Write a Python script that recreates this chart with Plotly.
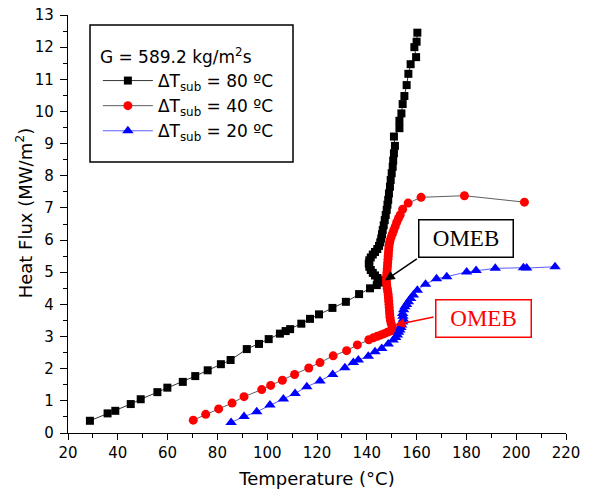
import plotly.graph_objects as go

# ---- data ----
t80 = [28.8, 35.9, 39.0, 45.2, 49.2, 55.9, 59.9, 66.1, 71.1, 76.1, 81.4, 85.3, 91.8, 96.7,
       100.6, 105.1, 107.4, 109.2, 113.7, 117.2, 120.8, 126.2, 131.6, 136.9, 141.3, 144.0,
       146.0, 145.2, 144.3, 143.3, 142.4, 141.6, 141.0, 140.8, 141.0, 141.6, 142.4, 143.3,
       144.2, 144.9, 145.4, 145.8, 146.1, 146.4, 146.8, 147.2, 147.6, 148.0, 148.3, 148.6,
       148.9, 149.3, 149.6, 150.0, 150.4, 150.6, 150.9, 151.3, 150.9, 153.1, 153.1, 153.9,
       154.4, 155.1, 156.0, 156.7, 157.6, 159.8, 159.1, 160.0, 160.3]
q80 = [0.38, 0.61, 0.69, 0.90, 1.05, 1.27, 1.41, 1.59, 1.77, 1.95, 2.14, 2.27, 2.61, 2.77,
       2.92, 3.09, 3.17, 3.23, 3.40, 3.55, 3.69, 3.89, 4.08, 4.32, 4.50, 4.60,
       4.68, 4.75, 4.82, 4.90, 4.98, 5.07, 5.17, 5.27, 5.37, 5.46, 5.55, 5.63,
       5.72, 5.82, 5.93, 6.05, 6.18, 6.31, 6.46, 6.62, 6.78, 6.94, 7.10, 7.25,
       7.45, 7.66, 7.87, 8.08, 8.28, 8.47, 8.70, 8.93, 9.22, 9.48, 9.71, 9.94,
       10.23, 10.48, 10.82, 11.17, 11.47, 11.69, 12.00, 12.17, 12.45]

t40 = [70.3, 75.3, 80.5, 85.9, 90.7, 97.8, 101.4, 106.1, 111.0, 116.7, 121.2, 126.5, 131.9,
       136.2, 140.8, 142.6, 144.2, 145.7, 147.0, 148.2, 149.4, 150.4, 150.2, 149.8, 149.5,
       149.3, 149.2, 149.1, 149.0, 148.9, 148.8, 148.7, 148.6, 148.4, 148.2, 148.0, 147.9,
       147.9, 148.0, 148.1, 148.2, 148.3, 148.4, 148.5, 148.6, 148.7, 148.8, 148.9, 149.1,
       149.4, 149.8, 150.3, 150.8, 151.4, 152.0, 152.7, 153.4, 154.4, 156.6, 161.8, 179.2, 203.3]
q40 = [0.40, 0.58, 0.75, 0.93, 1.13, 1.35, 1.48, 1.64, 1.82, 2.02, 2.19, 2.40, 2.56,
       2.74, 2.90, 2.96, 3.01, 3.05, 3.09, 3.13, 3.17, 3.21, 3.30, 3.40, 3.50,
       3.60, 3.70, 3.80, 3.90, 4.00, 4.10, 4.20, 4.30, 4.40, 4.50, 4.60, 4.70,
       4.80, 4.90, 5.00, 5.10, 5.20, 5.30, 5.40, 5.50, 5.60, 5.70, 5.80, 5.90,
       6.00, 6.10, 6.20, 6.30, 6.42, 6.55, 6.67, 6.78, 6.96, 7.15, 7.33, 7.38, 7.18]

t20 = [85.5, 90.7, 95.8, 101.1, 106.5, 111.2, 115.9, 121.2, 126.3, 131.2, 134.6, 136.6,
       140.6, 143.3, 146.0, 148.6, 150.6, 151.6, 152.3, 152.8, 153.3, 153.7, 154.0, 154.4,
       154.7, 154.5, 154.4, 154.8, 155.3, 156.0, 156.7, 157.6, 158.7, 160.3, 163.6, 168.0,
       172.1, 180.1, 183.9, 191.6, 202.9, 204.2, 215.6]
q20 = [0.33, 0.51, 0.66, 0.87, 1.06, 1.23, 1.44, 1.62, 1.82, 2.03, 2.19, 2.27,
       2.39, 2.53, 2.63, 2.77, 2.89, 2.97, 3.05, 3.13, 3.20, 3.28, 3.36, 3.45,
       3.54, 3.63, 3.72, 3.83, 3.93, 4.00, 4.08, 4.18, 4.29, 4.44, 4.63, 4.80,
       4.86, 5.01, 5.05, 5.12, 5.14, 5.13, 5.17]

names = ["ΔT<sub>sub</sub> = 80 ºC", "ΔT<sub>sub</sub> = 40 ºC", "ΔT<sub>sub</sub> = 20 ºC"]
legend_title = "G = 589.2 kg/m<sup>2</sup>s"
x_title = "Temperature (°C)"
y_title = "Heat Flux (MW/m<sup>2</sup>)"

# annotation anchors (data coords)
omeb_black_box = (179.9, 6.05)
omeb_black_arrow = ((160.7, 5.45), (147.3, 4.74))
omeb_red_box = (187.0, 3.56)
omeb_red_arrow = ((167.4, 3.62), (151.3, 3.36))

SANS = "DejaVu Sans"
SERIF = "Liberation Serif, Times New Roman, serif"

fig = go.Figure()
fig.add_trace(go.Scatter(x=t80, y=q80, name=names[0], mode="lines+markers",
                         line=dict(color="#000000", width=0.8),
                         marker=dict(symbol="square", size=8, color="#000000")))
fig.add_trace(go.Scatter(x=t40, y=q40, name=names[1], mode="lines+markers",
                         line=dict(color="#333333", width=0.8),
                         marker=dict(symbol="circle", size=9, color="#ff0000")))
fig.add_trace(go.Scatter(x=t20, y=q20, name=names[2], mode="lines+markers",
                         line=dict(color="#4a4aff", width=0.9),
                         marker=dict(symbol="triangle-up", size=10, color="#0000ff")))

# OMEB boxes
fig.add_annotation(x=omeb_black_box[0], y=omeb_black_box[1], text="OMEB", showarrow=False,
                   font=dict(family=SERIF, size=23, color="black"),
                   bordercolor="black", borderwidth=1.5, borderpad=0,
                   width=93, height=36, bgcolor="white")
fig.add_annotation(x=omeb_black_arrow[1][0], y=omeb_black_arrow[1][1],
                   ax=omeb_black_arrow[0][0], ay=omeb_black_arrow[0][1],
                   axref="x", ayref="y", text="", showarrow=True,
                   arrowhead=2, arrowsize=1.3, arrowwidth=1.5, arrowcolor="black")
fig.add_annotation(x=omeb_red_box[0], y=omeb_red_box[1], text="OMEB", showarrow=False,
                   font=dict(family=SERIF, size=23, color="#ff0000"),
                   bordercolor="#ff0000", borderwidth=1.5, borderpad=0,
                   width=94, height=36, bgcolor="white")
fig.add_annotation(x=omeb_red_arrow[1][0], y=omeb_red_arrow[1][1],
                   ax=omeb_red_arrow[0][0], ay=omeb_red_arrow[0][1],
                   axref="x", ayref="y", text="", showarrow=True,
                   arrowhead=2, arrowsize=1.3, arrowwidth=1.5, arrowcolor="#ff0000")

# y axis title placed as rotated text
fig.add_annotation(x=-0.088, y=0.526, xref="paper", yref="paper", text=y_title,
                   textangle=-90, showarrow=False, xanchor="center", yanchor="middle",
                   font=dict(family=SANS, size=18, color="black"))

# legend frame
fig.add_shape(type="rect", xref="paper", yref="paper",
              x0=0.0442, x1=0.4518, y0=0.6483, y1=0.976,
              line=dict(color="black", width=1.5), fillcolor="rgba(0,0,0,0)")

axis_common = dict(showline=True, linecolor="black", linewidth=1.2, mirror=False,
                   showgrid=False, zeroline=False, ticks="outside",
                   tickwidth=1.2, tickcolor="black", automargin=False,
                   tickfont=dict(family=SANS, size=15, color="black"))

fig.update_xaxes(range=[20, 220], dtick=20, tick0=20, ticklen=6,
                 minor=dict(ticks="outside", dtick=10, ticklen=4, tickwidth=1.2, tickcolor="black"),
                 title=dict(text=x_title, font=dict(family=SANS, size=18, color="black"), standoff=11),
                 **axis_common)
fig.update_yaxes(range=[0, 13], dtick=1, tick0=0, ticklen=7, ticklabelstandoff=3,
                 minor=dict(ticks="outside", dtick=0.5, ticklen=4, tickwidth=1.2, tickcolor="black"),
                 **axis_common)

fig.update_layout(
    width=590, height=498,
    margin=dict(l=68, r=24, t=15, b=65),
    plot_bgcolor="white", paper_bgcolor="white",
    font=dict(family=SANS, color="black"),
    legend=dict(x=0.060, y=0.938, xanchor="left", yanchor="top",
                borderwidth=0, bgcolor="rgba(255,255,255,0)",
                font=dict(family=SANS, size=17, color="black"),
                title=dict(text=legend_title, font=dict(family=SANS, size=17, color="black")),
                itemwidth=50),
)

fig.write_html("out.html", config={"displayModeBar": False},
               post_script="document.body.style.margin='0';")
